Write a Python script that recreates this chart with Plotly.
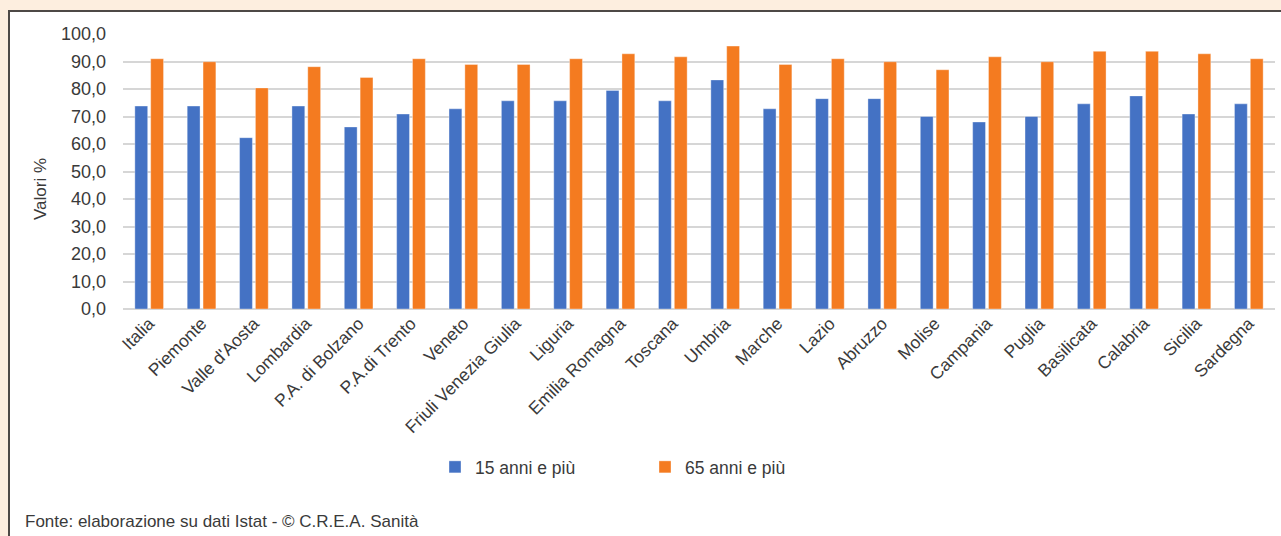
import plotly.graph_objects as go

categories = ["Italia", "Piemonte", "Valle d'Aosta", "Lombardia", "P.A. di Bolzano",
              "P.A.di Trento", "Veneto", "Friuli Venezia Giulia", "Liguria",
              "Emilia Romagna", "Toscana", "Umbria", "Marche", "Lazio", "Abruzzo",
              "Molise", "Campania", "Puglia", "Basilicata", "Calabria", "Sicilia",
              "Sardegna"]
val_15 = [73.8, 73.8, 62.3, 73.8, 66.2, 70.9, 72.8, 75.7, 75.7, 79.5, 75.7,
          83.3, 72.8, 76.5, 76.5, 70.0, 68.0, 70.0, 74.6, 77.5, 70.9, 74.6]
val_65 = [91.0, 89.9, 80.4, 88.1, 84.2, 91.0, 88.9, 88.9, 91.0, 92.8, 91.7,
          95.6, 88.9, 91.0, 89.9, 87.0, 91.7, 89.9, 93.7, 93.7, 92.8, 91.0]
series_names = ["15 anni e più", "65 anni e più"]
y_ticks = [0, 10, 20, 30, 40, 50, 60, 70, 80, 90, 100]

FONT = "Liberation Sans, Arial, sans-serif"
TXT = "#3a3a3a"
W, H = 1281, 536
L, R, T, B = 123, 6, 34, 227
PW, PH = W - L - R, H - T - B


def px_x(px):
    return (px - L) / PW


def px_y(py):
    return (H - B - py) / PH


fig = go.Figure()
fig.add_trace(go.Bar(x=categories, y=val_15, name=series_names[0],
                     marker=dict(color="#4472C4", line=dict(color="rgba(255,255,255,0.35)", width=1))))
fig.add_trace(go.Bar(x=categories, y=val_65, name=series_names[1],
                     marker=dict(color="#F47B20", line=dict(color="rgba(255,255,255,0.35)", width=1))))

fig.update_layout(
    width=W, height=H,
    margin=dict(l=L, r=R, t=T, b=B, pad=0),
    paper_bgcolor="#FDEEDF",
    plot_bgcolor="rgba(0,0,0,0)",
    separators=",.",
    barmode="group",
    bargap=0.395,
    bargroupgap=0.19,
    font=dict(family=FONT, color=TXT, size=17),
    showlegend=True,
    legend=dict(orientation="h", x=px_x(435), xanchor="left", y=px_y(467), yanchor="middle",
                font=dict(size=17.5, color=TXT), entrywidth=165, entrywidthmode="pixels",
                bgcolor="rgba(0,0,0,0)", traceorder="normal"),
    xaxis=dict(tickangle=-45, tickfont=dict(size=17.5, color=TXT), showgrid=False,
               showline=False, ticks="", automargin=False),
    yaxis=dict(range=[0, 100], tickvals=y_ticks, tickformat=".1f",
               tickfont=dict(size=18, color=TXT), showgrid=True, gridcolor="#D6D6D6",
               gridwidth=2, zeroline=True, zerolinecolor="#D6D6D6", zerolinewidth=2,
               showline=False, ticks="", ticklabelstandoff=16, automargin=False),
    shapes=[dict(type="rect", xref="paper", yref="paper", layer="below",
                 x0=px_x(9), x1=px_x(1300), y0=px_y(700), y1=px_y(11),
                 fillcolor="white", line=dict(color="#4d4946", width=2))],
    annotations=[
        dict(text="Valori %", xref="paper", yref="paper", x=px_x(40), y=px_y(189),
             xanchor="center", yanchor="middle", textangle=-90, showarrow=False,
             font=dict(size=17, color=TXT)),
        dict(text="Fonte: elaborazione su dati Istat - © C.R.E.A. Sanità", xref="paper",
             yref="paper", x=px_x(23), y=px_y(521), xanchor="left", yanchor="middle",
             showarrow=False, font=dict(size=17, color=TXT)),
    ],
)

fig.write_html(
    "out.html",
    config={"displayModeBar": False},
    post_script="document.body.style.margin='0';document.body.style.overflow='hidden';"
                "document.body.style.background='#FDEEDF';",
)
